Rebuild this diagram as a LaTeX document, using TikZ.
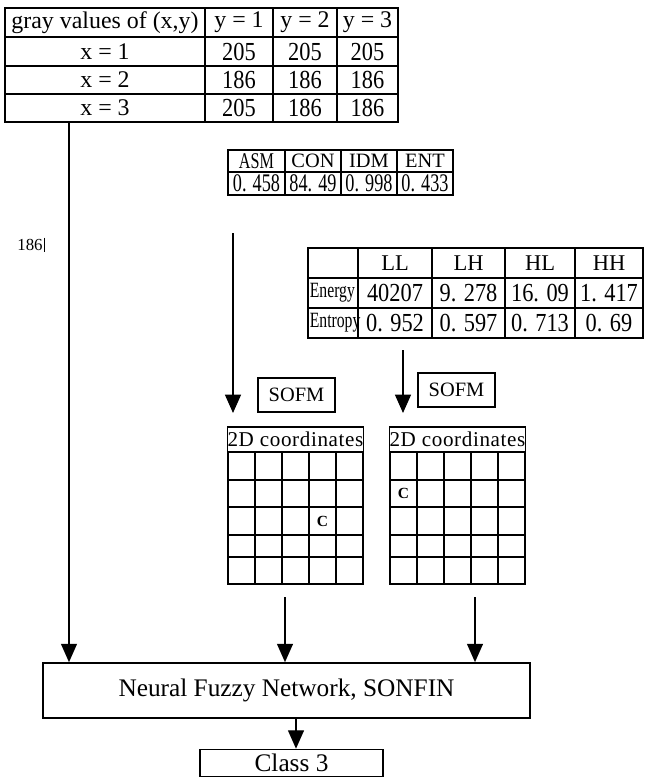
\documentclass[tikz,border=0pt]{standalone}
\usepackage{fontspec}
\setmainfont{Liberation Serif}
\newfontfamily\numfont{Liberation Serif}[FakeStretch = 0.86]
\newfontfamily\narrowfont{Liberation Serif}[FakeStretch = 0.72]
\usepackage{tikz}
\usetikzlibrary{calc}
\usetikzlibrary{arrows.meta}

\begin{document}
\begin{tikzpicture}[scale = 1]

\tikzstyle{cell}=[inner sep = 0, font = \fontsize{17}{20}\selectfont]
\tikzstyle{num_cell}=[inner sep = 0, font = \fontsize{18.5}{20}\numfont]
\tikzstyle{head_cell}=[inner sep = 0, font = \fontsize{14.5}{17}\selectfont]
\tikzstyle{feat_cell}=[inner sep = 0, font = \fontsize{18}{20}\narrowfont]
\tikzstyle{band_cell}=[inner sep = 0, font = \fontsize{16}{18}\selectfont]
\tikzstyle{wav_cell}=[inner sep = 0, font = \fontsize{18.5}{20}\numfont]
\tikzstyle{row_name}=[inner sep = 0, anchor = west, font = \fontsize{15.5}{18}\narrowfont]
\tikzstyle{block}=[draw, line width = 1.2, inner sep = 0, font = \fontsize{18}{20}\selectfont]
\tikzstyle{sofm}=[draw, line width = 1.2, inner sep = 0, minimum width = 1.925cm, minimum height = 0.85cm, font = \fontsize{14.5}{16}\selectfont]
\tikzstyle{coord_head}=[draw, line width = 1.2, inner sep = 0, minimum width = 3.375cm, minimum height = 0.625cm, font = \fontsize{15}{17}\selectfont\addfontfeatures{LetterSpace = 3}]
\tikzstyle{hit}=[inner sep = 0, font = \fontsize{11}{13}\selectfont\bfseries]
\tikzstyle{rule}=[line width = 1.2]
\tikzstyle{flow}=[-{Triangle[length = 4.6mm, width = 4mm]}, line width = 1]

\useasboundingbox (0, 0) rectangle (16.1, -19.45);

% gray values table
\draw[rule] (0.125, -0.2) rectangle (9.95, -3.05);
\draw[rule] (0.125, -0.925) -- (9.95, -0.925) (0.125, -1.65) -- (9.95, -1.65) (0.125, -2.35) -- (9.95, -2.35);
\draw[rule] (5.125, -0.2) -- (5.125, -3.05) (6.825, -0.2) -- (6.825, -3.05) (8.425, -0.2) -- (8.425, -3.05);

\path[cell]
(2.625, -0.5625) node(gh) {gray values of (x,y)}
(5.975, -0.5625) node(gy1) {y = 1}
(7.625, -0.5625) node(gy2) {y = 2}
(9.1875, -0.5625) node(gy3) {y = 3}
(2.625, -1.2875) node(gx1) {x = 1}
(2.625, -2.0) node(gx2) {x = 2}
(2.625, -2.7) node(gx3) {x = 3};

\path[num_cell]
(5.975, -1.2875) node(g11) {205}
(7.625, -1.2875) node(g12) {205}
(9.1875, -1.2875) node(g13) {205}
(5.975, -2.0) node(g21) {186}
(7.625, -2.0) node(g22) {186}
(9.1875, -2.0) node(g23) {186}
(5.975, -2.7) node(g31) {205}
(7.625, -2.7) node(g32) {186}
(9.1875, -2.7) node(g33) {186};

% texture features table
\draw[rule] (5.7, -3.75) rectangle (11.325, -4.875);
\draw[rule] (5.7, -4.3) -- (11.325, -4.3);
\draw[rule] (7.125, -3.75) -- (7.125, -4.875) (8.525, -3.75) -- (8.525, -4.875) (9.925, -3.75) -- (9.925, -4.875);

\path[head_cell]
(6.4125, -4.025) node(asm) {\fontsize{16}{18}\narrowfont ASM}
(7.825, -4.025) node(con) {CON}
(9.225, -4.025) node(idm) {IDM}
(10.625, -4.025) node(ent) {ENT};

\path[feat_cell]
(6.4125, -4.5875) node(asmv) {0. 458}
(7.825, -4.5875) node(conv) {84. 49}
(9.225, -4.5875) node(idmv) {0. 998}
(10.625, -4.5875) node(entv) {0. 433};

% wavelet table
\draw[rule] (7.7, -6.2) rectangle (16.075, -8.45);
\draw[rule] (7.7, -6.95) -- (16.075, -6.95) (7.7, -7.7) -- (16.075, -7.7);
\draw[rule] (8.95, -6.2) -- (8.95, -8.45) (10.8, -6.2) -- (10.8, -8.45) (12.625, -6.2) -- (12.625, -8.45) (14.375, -6.2) -- (14.375, -8.45);

\path[band_cell]
(9.875, -6.575) node(ll) {LL}
(11.7125, -6.575) node(lh) {LH}
(13.5, -6.575) node(hl) {HL}
(15.225, -6.575) node(hh) {HH};

\path[row_name]
(7.74, -7.325) node(energy) {Energy}
(7.74, -8.075) node(entropy) {Entropy};

\path[wav_cell]
(9.875, -7.325) node(ll_e) {40207}
(11.7125, -7.325) node(lh_e) {9. 278}
(13.5, -7.325) node(hl_e) {16. 09}
(15.225, -7.325) node(hh_e) {1. 417}
(9.875, -8.075) node(ll_h) {0. 952}
(11.7125, -8.075) node(lh_h) {0. 597}
(13.5, -8.075) node(hl_h) {0. 713}
(15.225, -8.075) node(hh_h) {0. 69};

% SOFM boxes
\node[sofm] (sofm1) at (7.4125, -9.875) {SOFM};
\node[sofm] (sofm2) at (11.4125, -9.75) {SOFM};

% 2D coordinate maps
\node[coord_head] (map1) at (7.3875, -10.9875) {2D coordinates};
\draw[rule] (5.7, -11.3) rectangle (9.075, -14.6);
\draw[rule] (5.7, -12.0) -- (9.075, -12.0) (5.7, -12.675) -- (9.075, -12.675) (5.7, -13.375) -- (9.075, -13.375) (5.7, -13.925) -- (9.075, -13.925);
\draw[rule] (6.375, -11.3) -- (6.375, -14.6) (7.05, -11.3) -- (7.05, -14.6) (7.725, -11.3) -- (7.725, -14.6) (8.4, -11.3) -- (8.4, -14.6);
\node[hit] (c1) at (8.0625, -13.025) {C};

\node[coord_head] (map2) at (11.4375, -10.9875) {2D coordinates};
\draw[rule] (9.75, -11.3) rectangle (13.125, -14.6);
\draw[rule] (9.75, -12.0) -- (13.125, -12.0) (9.75, -12.675) -- (13.125, -12.675) (9.75, -13.375) -- (13.125, -13.375) (9.75, -13.925) -- (13.125, -13.925);
\draw[rule] (10.425, -11.3) -- (10.425, -14.6) (11.1, -11.3) -- (11.1, -14.6) (11.775, -11.3) -- (11.775, -14.6) (12.45, -11.3) -- (12.45, -14.6);
\node[hit] (c2) at (10.0875, -12.3375) {C};

% network and class
\node[block, minimum width = 12.175cm, minimum height = 1.375cm] (net) at (7.1625, -17.2625) {Neural Fuzzy Network, SONFIN};
\node[block, minimum width = 4.575cm, minimum height = 0.675cm] (cls) at (7.2875, -19.075) {Class 3};

% pixel value label
\node[inner sep = 1pt, font = \fontsize{12}{14}\selectfont] (pix) at (0.75, -6.125) {186};
\draw[line width = 0.8] (pix.north east) -- (pix.south east);

%arrows
\coordinate (gray_out) at (1.725, -3.05);
\coordinate (asm_out) at (5.825, -5.825);
\coordinate (asm_in) at (5.825, -10.325);
\coordinate (wav_out) at (10.075, -8.75);
\coordinate (wav_in) at (10.075, -10.325);
\coordinate (map1_out) at (7.125, -14.925);
\coordinate (map2_out) at (11.875, -14.925);
\coordinate (net_out) at (7.4, -17.95);

\draw[flow] (gray_out) to (gray_out |- net.north);
\draw[flow] (asm_out) to (asm_in);
\draw[flow] (wav_out) to (wav_in);
\draw[flow] (map1_out) to (map1_out |- net.north);
\draw[flow] (map2_out) to (map2_out |- net.north);
\draw[flow] (net_out) to (net_out |- cls.north);

\end{tikzpicture}
\end{document}
